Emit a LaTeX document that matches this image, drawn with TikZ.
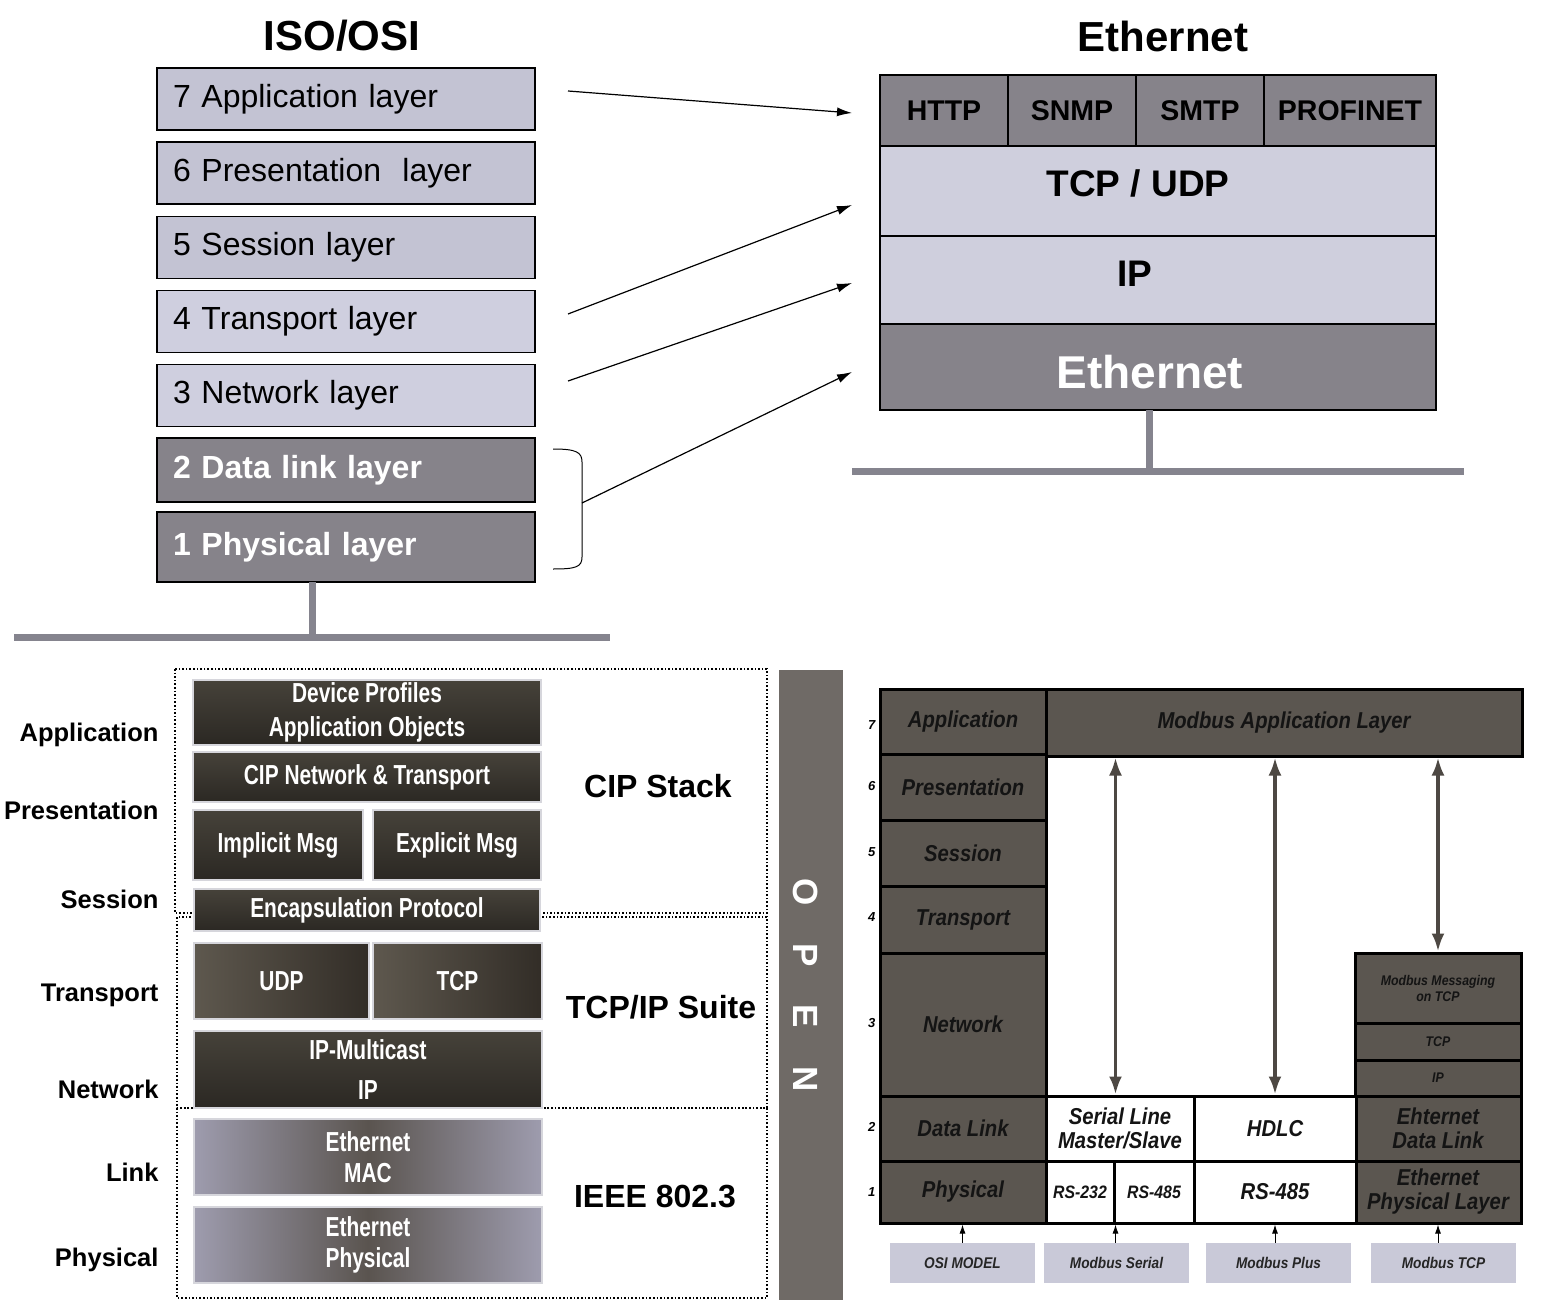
\documentclass[tikz,border=0pt]{standalone}
\usepackage{fontspec}
\setmainfont{Liberation Sans}
\newfontfamily\narrowfont[FakeStretch=0.76]{Liberation Sans}
\newfontfamily\modfont[FakeStretch=0.88]{Liberation Sans}
\usepackage{tikz}
\usetikzlibrary{arrows}
\usetikzlibrary{arrows.meta}
\usetikzlibrary{calc}
\definecolor{osiA}{HTML}{C3C3D3}
\definecolor{osiB}{HTML}{CFCFDF}
\definecolor{osigray}{HTML}{86838A}
\definecolor{ethlight}{HTML}{CFCFDD}
\definecolor{busgray}{HTML}{85848E}
\definecolor{ciptop}{HTML}{46423A}
\definecolor{cipbot}{HTML}{2B2823}
\definecolor{cipedge}{HTML}{D6D6DC}
\definecolor{udpl}{HTML}{5E584E}
\definecolor{udpr}{HTML}{322D27}
\definecolor{macedge}{HTML}{9E9CAE}
\definecolor{macmid}{HTML}{5A544F}
\definecolor{opengray}{HTML}{6F6A66}
\definecolor{modgray}{HTML}{5B5650}
\definecolor{modlabel}{HTML}{C9C9D8}
\definecolor{modarrowc}{HTML}{4D4843}

\begin{document}
\begin{tikzpicture}[x=1pt, y=-1pt,
        osi/.style={draw=black, line width=1.5pt, text width=346pt, inner xsep=16pt, inner ysep=0pt, minimum height=62pt, align=left, font=\fontsize{32}{36}\selectfont},
        osidark/.style={osi, fill=osigray, line width=2.5pt, text=white, font=\bfseries\fontsize{32}{36}\selectfont},
        headline/.style={font=\bfseries\fontsize{42}{46}\selectfont},
        eth/.style={draw=black, line width=2pt, inner sep=0pt, fill=ethlight},
        ethtop/.style={eth, fill=osigray, minimum height=71pt, font=\bfseries\fontsize{28.5}{32}\selectfont},
        ethtext/.style={font=\bfseries\fontsize{37}{40}\selectfont},
        bus/.style={draw=busgray, line width=7pt},
        osiarrow/.style={->, >={Latex[length=15pt,width=9pt]}, line width=1.2pt},
        dotbox/.style={dotted, line width=1.6pt},
        cipbase/.style={draw=cipedge, line width=1.5pt, inner sep=0pt, align=center, text=white, font=\narrowfont\bfseries\fontsize{27.5}{34}\selectfont},
        cip/.style={cipbase, top color=ciptop, bottom color=cipbot},
        cipside/.style={cipbase, left color=udpl, right color=udpr},
        macbox/.style={cipbase, left color=macedge, right color=macedge, middle color=macmid, minimum width=348pt, minimum height=76pt, font=\narrowfont\bfseries\fontsize{27.5}{31}\selectfont},
        sidelabel/.style={font=\bfseries\fontsize{32}{36}\selectfont},
        lefttag/.style={anchor=east, font=\bfseries\fontsize{25.5}{28}\selectfont},
        mod/.style={draw=black, line width=3pt, fill=modgray, inner sep=0pt, align=center, text=black!92, font=\modfont\bfseries\itshape\fontsize{23}{24}\selectfont},
        modw/.style={mod, fill=white},
        modsmall/.style={font=\modfont\bfseries\itshape\fontsize{14}{16}\selectfont},
        modnum/.style={anchor=east, font=\bfseries\itshape\fontsize{13}{14}\selectfont},
        modlab/.style={fill=modlabel, inner sep=0pt, minimum width=145pt, minimum height=40pt, text=black!85, font=\modfont\bfseries\itshape\fontsize{15.5}{16}\selectfont},
        modarrow/.style={<->, >={Latex[length=18pt,width=13pt]}, line width=3.5pt, draw=modarrowc},
        osiup/.style={->, >={Latex[length=9pt,width=6pt]}, line width=1pt}]
        \useasboundingbox (0,0) rectangle (1544,1308);
        \fill[white] (0,0) rectangle (1544,1308);

        \node[headline] (isotitle) at (342,36) {ISO/OSI};
        \node[osi, fill=osiA] (osi7) at (346,99) {7 Application layer};
        \node[osi, fill=osiA] (osi6) at (346,173) {6 Presentation\ \ layer};
        \node[osi, fill=osiA] (osi5) at (346,247.5) {5 Session layer};
        \node[osi, fill=osiB] (osi4) at (346,321.5) {4 Transport layer};
        \node[osi, fill=osiB] (osi3) at (346,395.5) {3 Network layer};
        \node[osidark, minimum height=64pt] (osi2) at (346,470) {2 Data link layer};
        \node[osidark, minimum height=70pt] (osi1) at (346,547) {1 Physical layer};
        \coordinate (osibus) at (312,637);
        \draw[bus] (312,582) -- (osibus);
        \draw[bus] (14,637) -- (610,637);

        \node[headline] (ethtitle) at (1163,36) {Ethernet};
        \node[ethtop, minimum width=128pt] (http) at (944,110.5) {HTTP};
        \node[ethtop, minimum width=128pt] (snmp) at (1072,110.5) {SNMP};
        \node[ethtop, minimum width=128pt] (smtp) at (1200,110.5) {SMTP};
        \node[ethtop, minimum width=172pt] (profinet) at (1350,110.5) {PROFINET};
        \node[eth, minimum width=556pt, minimum height=90pt] (tcpudp) at (1158,191) {};
        \node[ethtext] (tcpudptext) at (1138,183) {TCP / UDP};
        \node[eth, minimum width=556pt, minimum height=88pt] (ipcell) at (1158,280) {};
        \node[ethtext] (iptext) at (1135,274) {IP};
        \node[eth, fill=osigray, minimum width=556pt, minimum height=86pt] (ethcell) at (1158,367) {};
        \node[text=white, font=\bfseries\fontsize{46}{50}\selectfont] (ethtext) at (1150,372) {Ethernet};
        \coordinate (ethbus) at (1149,471);
        \draw[bus] (1149,410) -- (ethbus);
        \draw[bus] (852,471) -- (1464,471);

        \coordinate (from7) at (568,91);
        \coordinate (from4) at (568,314);
        \coordinate (from3) at (568,381);
        \coordinate (bracetip) at (582,503);
        \coordinate (to7) at (852,113);
        \coordinate (to4) at (852,205);
        \coordinate (to3) at (852,283);
        \coordinate (to2) at (852,372);
        \draw[line width=1pt] (553,449) .. controls (576,449) and (582,452) .. (582,462) -- (582,557) .. controls (582,567) and (576,569) .. (553,569);
        \draw[osiarrow] (from7) -- (to7);
        \draw[osiarrow] (from4) -- (to4);
        \draw[osiarrow] (from3) -- (to3);
        \draw[osiarrow] (bracetip) -- (to2);

        \draw[dotbox] (175,669) rectangle (767,913);
        \draw[dotbox] (177,917) rectangle (767,1108);
        \draw[dotbox] (177,1108) rectangle (767,1298);
        \node[cip, minimum width=348pt, minimum height=65pt] (devprof) at (367,712.5) {Device Profiles\\Application Objects};
        \node[cip, minimum width=348pt, minimum height=50pt] (cipnet) at (367,777) {CIP Network \& Transport};
        \node[cip, minimum width=170pt, minimum height=70pt] (implicit) at (278,845) {Implicit Msg};
        \node[cip, minimum width=168pt, minimum height=70pt] (explicit) at (457,845) {Explicit Msg};
        \node[cip, minimum width=346pt, minimum height=42pt] (encap) at (367,910) {Encapsulation Protocol};
        \node[cipside, minimum width=175pt, minimum height=76pt] (udp) at (281.5,981) {UDP};
        \node[cipside, minimum width=169pt, minimum height=76pt] (tcp) at (457.5,981) {TCP};
        \node[cip, minimum width=348pt, minimum height=77pt, font=\narrowfont\bfseries\fontsize{27.5}{40}\selectfont] (ipmc) at (368,1069.5) {IP-Multicast\\IP};
        \node[macbox] (ethmac) at (368,1157) {Ethernet\\MAC};
        \node[macbox] (ethphys) at (368,1245) {Ethernet\\Physical};
        \node[sidelabel] (cipstack) at (658,786) {CIP Stack};
        \node[sidelabel] (tcpsuite) at (661,1007) {TCP/IP Suite};
        \node[sidelabel] (ieee) at (655,1196) {IEEE 802.3};
        \foreach \name/\y [count=\i] in {Application/735, Presentation/810, Session/899, Transport/995, Network/1089, Link/1172, Physical/1260}
                \node[lefttag] (tag\i) at (162,\y) {\name};

        \node[fill=opengray, minimum width=64pt, minimum height=630pt, inner sep=0pt] (openbar) at (811,985) {};
        \node[rotate=-90, text=white, font=\bfseries\fontsize{35}{40}\selectfont] (opentext) at (806,985) {O\hspace{38pt}P\hspace{38pt}E\hspace{38pt}N};

        \node[mod, minimum width=166pt, minimum height=65pt] (mapp) at (963,721.5) {Application};
        \node[mod, minimum width=166pt, minimum height=66pt] (mpres) at (963,787) {Presentation};
        \node[mod, minimum width=166pt, minimum height=66pt] (msess) at (963,853) {Session};
        \node[mod, minimum width=166pt, minimum height=67pt] (mtrans) at (963,919.5) {Transport};
        \node[mod, minimum width=166pt, minimum height=143pt] (mnet) at (963,1024.5) {Network};
        \node[mod, minimum width=166pt, minimum height=65pt] (mdl) at (963,1128.5) {Data Link};
        \node[mod, minimum width=166pt, minimum height=62pt] (mphy) at (963,1192) {Physical};
        \node[mod, minimum width=476pt, minimum height=67pt] (mal) at (1284,722.5) {Modbus Application Layer};
        \node[mod, modsmall, minimum width=166pt, minimum height=70pt] (mmsg) at (1438,988) {Modbus Messaging\\on TCP};
        \node[mod, modsmall, minimum width=166pt, minimum height=37pt] (mtcp) at (1438,1041.5) {TCP};
        \node[mod, modsmall, minimum width=166pt, minimum height=36pt] (mip) at (1438,1078) {IP};
        \node[mod, minimum width=166pt, minimum height=65pt] (medl) at (1438,1128.5) {Ehternet\\Data Link};
        \node[mod, minimum width=166pt, minimum height=62pt] (meph) at (1438,1192) {Ethernet\\Physical Layer};
        \node[modw, minimum width=148pt, minimum height=65pt] (serial) at (1120,1128.5) {Serial Line\\Master/Slave};
        \node[modw, minimum width=162pt, minimum height=65pt] (hdlc) at (1275,1128.5) {HDLC};
        \node[modw, minimum width=68pt, minimum height=62pt, font=\modfont\bfseries\itshape\fontsize{18}{20}\selectfont] (rs232) at (1080,1192) {RS-232};
        \node[modw, minimum width=80pt, minimum height=62pt, font=\modfont\bfseries\itshape\fontsize{18}{20}\selectfont] (rs485a) at (1154,1192) {RS-485};
        \node[modw, minimum width=162pt, minimum height=62pt] (rs485b) at (1275,1192) {RS-485};
        \foreach \n/\y in {7/725, 6/786, 5/852, 4/917, 3/1023, 2/1127, 1/1192}
                \node[modnum] (num\n) at (879,\y) {\n};
        \draw[modarrow] (rs232.north east |- mal.south) -- (rs232.north east |- serial.north);
        \draw[modarrow] (hdlc.north |- mal.south) -- (hdlc.north);
        \draw[modarrow] (mmsg.north |- mal.south) -- (mmsg.north);

        \node[modlab] (osimodel) at (962.5,1263) {OSI MODEL};
        \node[modlab] (mserial) at (1116.5,1263) {Modbus Serial};
        \node[modlab] (mplus) at (1278.5,1263) {Modbus Plus};
        \node[modlab] (mtcplab) at (1443.5,1263) {Modbus TCP};
        \draw[osiup] (osimodel.north) -- (osimodel.north |- mphy.south);
        \draw[osiup] (rs232.south east |- mserial.north) -- (rs232.south east);
        \draw[osiup] (rs485b.south |- mplus.north) -- (rs485b.south);
        \draw[osiup] (meph.south |- mtcplab.north) -- (meph.south);
\end{tikzpicture}
\end{document}
